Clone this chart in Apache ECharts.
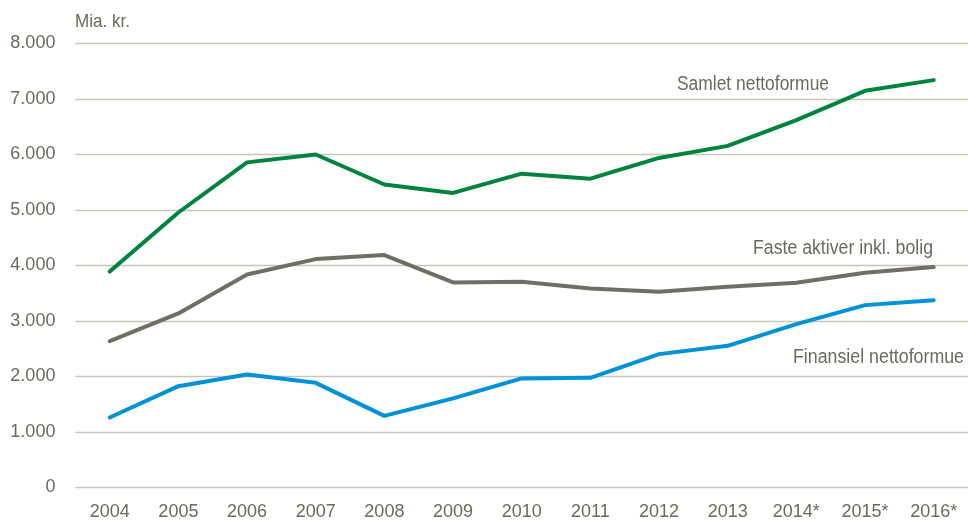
<!DOCTYPE html>
<html><head><meta charset="utf-8">
<script src="https://cdn.jsdelivr.net/npm/echarts@6/dist/echarts.min.js"></script>
<style>html,body{margin:0;padding:0;background:#fff}#c{width:968px;height:524px}</style>
</head><body><div id="c"></div>
<script>
const categories = ['2004','2005','2006','2007','2008','2009','2010','2011','2012','2013','2014*','2015*','2016*'];
const samlet = [3890, 4955, 5858, 6000, 5460, 5308, 5655, 5565, 5938, 6155, 6620, 7147, 7340];
const faste = [2637, 3136, 3839, 4115, 4187, 3695, 3706, 3587, 3526, 3616, 3688, 3868, 3971];
const finansiel = [1262, 1826, 2036, 1886, 1291, 1606, 1965, 1976, 2403, 2553, 2943, 3286, 3376];
const seriesNames = ['Samlet nettoformue', 'Faste aktiver inkl. bolig', 'Finansiel nettoformue'];
const yTicks = [0, 1000, 2000, 3000, 4000, 5000, 6000, 7000, 8000];
const unitLabel = 'Mia. kr.';

const FONT = '"Liberation Sans", Arial, sans-serif';
const TXT = '#6b6a5c';
const ctx = document.createElement('canvas').getContext('2d');
function measure(t, size){ ctx.font = size + 'px ' + FONT; return ctx.measureText(t).width; }
function label(t, x, yMid, size, targetW){
  const sx = targetW / measure(t, size);
  return {type:'text', x:x, y:yMid, scaleX:sx, scaleY:1, originX:0, originY:0, silent:true,
    style:{text:t, x:0, y:0, fill:TXT, font:size+'px '+FONT, textAlign:'left', textVerticalAlign:'middle', verticalAlign:'middle'}};
}
const chart = echarts.init(document.getElementById('c'), null, {renderer:'canvas'});
function fmt(v){ return v === 0 ? '0' : String(v).replace(/\B(?=(\d{3})+(?!\d))/g, '.'); }
function lineSeries(name, data, color){
  return {name, type:'line', data, symbol:'none', smooth:false,
    lineStyle:{color, width:4, cap:'round', join:'round'}, itemStyle:{color}, animation:false};
}
chart.setOption({
  animation:false,
  grid:{left:75.4, top:43.5, width:901.2, height:444, containLabel:false},
  xAxis:{type:'category', data:categories, boundaryGap:true,
    axisLine:{show:false}, axisTick:{show:false},
    axisLabel:{color:TXT, fontFamily:FONT, fontSize:18, margin:16}},
  yAxis:{type:'value', min:yTicks[0], max:yTicks[yTicks.length-1], interval:1000,
    axisLine:{show:false}, axisTick:{show:false},
    splitLine:{lineStyle:{color:'#c8c6bb', width:1.3}},
    axisLabel:{color:TXT, fontFamily:FONT, fontSize:18, margin:20, formatter:fmt}},
  series:[
    lineSeries(seriesNames[0], samlet, '#00843d'),
    lineSeries(seriesNames[1], faste, '#706f62'),
    lineSeries(seriesNames[2], finansiel, '#0092d6')
  ],
  graphic:[
    label(unitLabel, 75, 22, 19, 55),
    label(seriesNames[0], 677, 84.5, 20, 152),
    label(seriesNames[1], 753, 248, 20, 180),
    label(seriesNames[2], 793, 357, 20, 171)
  ]
});
</script></body></html>
